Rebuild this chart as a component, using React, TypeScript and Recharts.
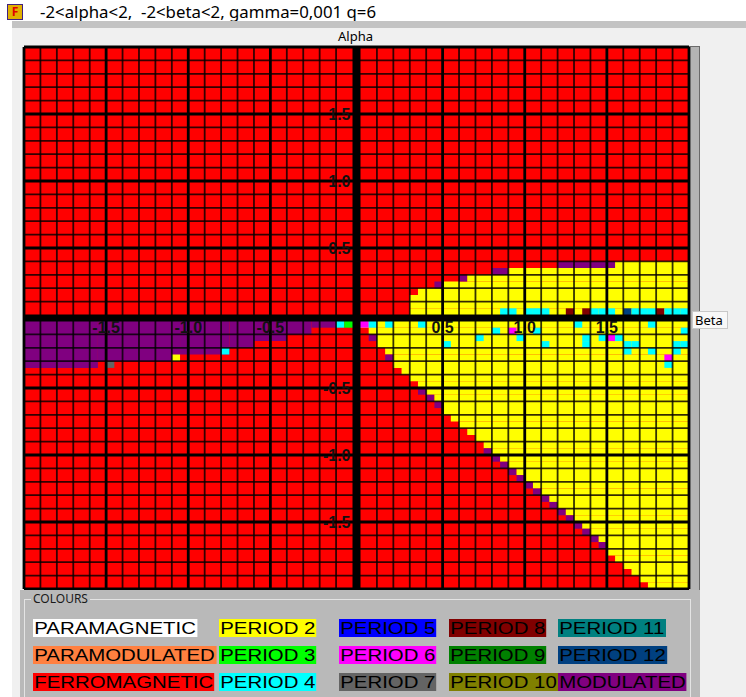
import { ComposedChart, XAxis, YAxis, ReferenceArea, ReferenceLine, ReferenceDot } from 'recharts'

// phases, in legend order (column by column)
const phaseNames = ['PARAMAGNETIC', 'PARAMODULATED', 'FERROMAGNETIC', 'PERIOD 2', 'PERIOD 3', 'PERIOD 4', 'PERIOD 5', 'PERIOD 6', 'PERIOD 7', 'PERIOD 8', 'PERIOD 9', 'PERIOD 10', 'PERIOD 11', 'PERIOD 12', 'MODULATED']
const phaseColors = ['#ffffff', '#ff8040', '#ff0000', '#ffff00', '#00ff00', '#00ffff', '#0000ff', '#ff00ff', '#646464', '#800000', '#008000', '#808000', '#008080', '#004080', '#800080']

const CELL = 0.05

// alpha > 0, beta > 0: rows counted up from the beta axis
const upperRowAlpha = [0, 0.05, 0.1, 0.15, 0.2, 0.25, 0.3, 0.35]
const upperRedEnd = [0.3, 0.3, 0.3, 0.35, 0.45, 0.6, 0.8, 1.2]
const upperModEnd = [0.3, 0.3, 0.3, 0.35, 0.5, 0.65, 0.9, 1.55]

// alpha < 0, beta > 0: row k spans alpha in [-(k+1)*0.05, -k*0.05]
const lowerRedEnd = [0, 0.05, 0.05, 0.1, 0.15, 0.15, 0.2, 0.25, 0.3, 0.35, 0.35, 0.4, 0.45, 0.5, 0.55, 0.6, 0.65, 0.7, 0.75, 0.75, 0.8, 0.85, 0.9, 0.95, 1.0, 1.05, 1.1, 1.15, 1.2, 1.25, 1.3, 1.35, 1.4, 1.45, 1.5, 1.55, 1.6, 1.65, 1.7, 1.75]
const lowerModEdge = [0, 0, 1, 0, 0, 1, 0, 0, 0, 0, 1, 1, 1, 0, 0, 0, 0, 0, 0, 1, 1, 1, 1, 1, 1, 1, 1, 1, 1, 1, 1, 1, 1, 1, 0, 0, 0, 0, 0, 0]

// alpha < 0, beta < 0: modulated band under the beta axis
const modStart = [-2, -1.55, -1.05, -0.75, -0.6, -0.4, -0.25]
const modEnd = [-1.55, -1.05, -0.75, -0.6, -0.4, -0.25, -0.1]
const modDepth = [7, 6, 5, 4, 3, 2, 1]

// isolated cells: [phase, beta, alpha] of the lower-left corner
const oddCells: [string, number, number][] = [
  ['PERIOD 4', 0.85, 0], ['PERIOD 4', 0.9, 0], ['PERIOD 4', 1.0, 0], ['PERIOD 4', 1.05, 0], ['PERIOD 4', 1.1, 0],
  ['PERIOD 8', 1.25, 0], ['PERIOD 8', 1.35, 0], ['PERIOD 4', 1.4, 0], ['PERIOD 4', 1.45, 0], ['PERIOD 4', 1.5, 0],
  ['PERIOD 12', 1.6, 0], ['PERIOD 4', 1.65, 0], ['PERIOD 4', 1.7, 0], ['PERIOD 4', 1.75, 0], ['PERIOD 8', 1.8, 0],
  ['PERIOD 4', 1.85, 0], ['PERIOD 4', 1.9, 0], ['PERIOD 4', 1.95, 0],
  ['PERIOD 6', 0, -0.05], ['PERIOD 4', 0.05, -0.05], ['PERIOD 4', 0.15, -0.05], ['PERIOD 4', 0.35, -0.05], ['PERIOD 4', 1.3, -0.05], ['PERIOD 4', 1.75, -0.05],
  ['PERIOD 4', 0.8, -0.1], ['PERIOD 6', 0.9, -0.1], ['PERIOD 4', 1.05, -0.1], ['PERIOD 4', 1.95, -0.1],
  ['PERIOD 4', 0.7, -0.15], ['PERIOD 4', 0.95, -0.15], ['PERIOD 4', 1.35, -0.15], ['PERIOD 4', 1.45, -0.15], ['PERIOD 6', 1.5, -0.15], ['PERIOD 4', 1.55, -0.15],
  ['PERIOD 4', 0.5, -0.2], ['PERIOD 4', 1.1, -0.2], ['PERIOD 4', 1.35, -0.2], ['PERIOD 4', 1.6, -0.2], ['PERIOD 4', 1.65, -0.2], ['PERIOD 4', 1.9, -0.2], ['PERIOD 4', 1.95, -0.2],
  ['PERIOD 4', 1.6, -0.25], ['PERIOD 4', 1.75, -0.25], ['PERIOD 4', 1.9, -0.25],
  ['PERIOD 6', 1.85, -0.3], ['PERIOD 4', 1.85, -0.35],
  ['PERIOD 4', -0.1, -0.05], ['PERIOD 3', -0.05, -0.05], ['PERIOD 4', -0.8, -0.25], ['PERIOD 2', -1.1, -0.3], ['PERIOD 7', -1.5, -0.35],
]

const betaTicks = [-1.5, -1, -0.5, 0.5, 1, 1.5]
const alphaTicks = [1.5, 1, 0.5, -0.5, -1, -1.5]

// the program leaves a gap for the thick axes between the two halves
const GX = 0.0243
const GY = 0.0224
const gx = (v: number) => (v > 0 ? v + GX : v < 0 ? v - GX : 0)
const gy = (v: number) => (v > 0 ? v + GY : v < 0 ? v - GY : 0)

const colorOf = (name: string) => phaseColors[phaseNames.indexOf(name)]

type Cell = { b1: number; b2: number; a1: number; a2: number; phase: string }

function buildCells(): Cell[] {
  const cells: Cell[] = [{ b1: -2, b2: 2, a1: -2, a2: 2, phase: 'FERROMAGNETIC' }]
  upperRowAlpha.forEach((a, i) => {
    if (upperModEnd[i] > upperRedEnd[i]) cells.push({ b1: upperRedEnd[i], b2: upperModEnd[i], a1: a, a2: a + CELL, phase: 'MODULATED' })
    cells.push({ b1: upperModEnd[i], b2: 2, a1: a, a2: a + CELL, phase: 'PERIOD 2' })
  })
  lowerRedEnd.forEach((r, k) => {
    const a2 = -k * CELL
    const a1 = a2 - CELL
    const m = lowerModEdge[k] ? r + CELL : r
    if (m > r) cells.push({ b1: r, b2: m, a1, a2, phase: 'MODULATED' })
    cells.push({ b1: m, b2: 2, a1, a2, phase: 'PERIOD 2' })
  })
  modStart.forEach((s, i) => cells.push({ b1: s, b2: modEnd[i], a1: -modDepth[i] * CELL, a2: 0, phase: 'MODULATED' }))
  oddCells.forEach(([phase, b, a]) => cells.push({ b1: b, b2: b + CELL, a1: a, a2: a + CELL, phase }))
  return cells
}

const gridSteps = Array.from({ length: 41 }, (_, i) => i - 20)

function PhaseMap() {
  const cells = buildCells()
  const tickFont = { fill: '#111', fontSize: 16, fontWeight: 700, fontFamily: 'Liberation Sans, Arial, sans-serif' }
  return (
    <ComposedChart width={669} height={546} margin={{ top: 2, right: 2, bottom: 2, left: 2 }}>
      <XAxis type="number" dataKey="b" domain={[-2 - GX, 2 + GX]} allowDataOverflow hide />
      <YAxis type="number" dataKey="a" domain={[-2 - GY, 2 + GY]} allowDataOverflow hide />
      {cells.map((c, i) => (
        <ReferenceArea key={'c' + i} x1={gx(c.b1)} x2={gx(c.b2)} y1={gy(c.a1)} y2={gy(c.a2)} fill={colorOf(c.phase)} fillOpacity={1} stroke="none" />
      ))}
      {gridSteps.filter((s) => s !== 0).map((s) => (
        <ReferenceLine key={'v' + s} x={gx(s / 10)} stroke="#000" strokeWidth={s % 5 === 0 ? 2.8 : 1.8} strokeOpacity={s % 5 === 0 ? 1 : 0.8} />
      ))}
      {gridSteps.filter((s) => s !== 0).map((s) => (
        <ReferenceLine key={'h' + s} y={gy(s / 10)} stroke="#000" strokeWidth={s % 5 === 0 ? 2.8 : 1.8} strokeOpacity={s % 5 === 0 ? 1 : 0.8} />
      ))}
      <ReferenceLine x={0} stroke="#000" strokeWidth={8} />
      <ReferenceLine y={0} stroke="#000" strokeWidth={7} />
      {betaTicks.map((v) => (
        <ReferenceDot key={'bt' + v} x={gx(v)} y={0} r={0} fill="none" stroke="none" label={{ value: v.toFixed(1), position: 'bottom', offset: 4, ...tickFont }} />
      ))}
      {alphaTicks.map((v) => (
        <ReferenceDot key={'at' + v} x={0} y={gy(v)} r={0} fill="none" stroke="none" label={{ value: v.toFixed(1), position: 'left', offset: 6, ...tickFont }} />
      ))}
    </ComposedChart>
  )
}

function Legend() {
  const colX = [33, 219, 339, 449, 558]
  const rowY = [619, 646, 673]
  return (
    <>
      {phaseNames.map((name, i) => (
        <div
          key={name}
          style={{
            position: 'absolute', left: colX[Math.floor(i / 3)], top: rowY[i % 3], height: 18, lineHeight: '19px',
            background: phaseColors[i], color: '#000', fontSize: 17, fontFamily: 'Liberation Sans, Arial, sans-serif',
            padding: '0 1px', whiteSpace: 'nowrap', transform: 'scaleX(1.2)', transformOrigin: 'left',
          }}
        >
          {name}
        </div>
      ))}
    </>
  )
}

export default function App() {
  const ui = 'Noto Sans, DejaVu Sans, sans-serif'
  return (
    <div style={{ position: 'absolute', left: 0, top: 0, width: 746, height: 697, background: '#fff', overflow: 'hidden', fontFamily: ui }}>
      <div style={{ position: 'absolute', left: 7, top: 4, width: 14, height: 14, background: '#e0b000', border: '1px solid #402080', color: '#e00000', fontSize: 12, fontWeight: 700, lineHeight: '14px', textAlign: 'center' }}>F</div>
      <div style={{ position: 'absolute', left: 40, top: 1, fontSize: 16, lineHeight: '22px', color: '#000', whiteSpace: 'pre', transform: 'scaleX(1.05)', transformOrigin: 'left' }}>{'-2<alpha<2,  -2<beta<2, gamma=0,001 q=6'}</div>
      <div style={{ position: 'absolute', left: 12, top: 21, width: 734, height: 7, background: '#c3c3c3' }} />
      <div style={{ position: 'absolute', left: 12, top: 28, width: 734, height: 669, background: '#f0f0f0' }} />
      <div style={{ position: 'absolute', left: 338, top: 28, fontSize: 13, lineHeight: '16px', color: '#000' }}>Alpha</div>
      <div style={{ position: 'absolute', left: 689, top: 46, width: 10, height: 544, background: '#b4b4b4', borderRight: '1px solid #6a6a6a', borderTop: '1px solid #6a6a6a' }} />
      <div style={{ position: 'absolute', left: 22, top: 45 }}>
        <PhaseMap />
      </div>
      <div style={{ position: 'absolute', left: 692, top: 311, width: 32, height: 16, background: '#f8f8f8', border: '1px solid #c8c8c8', fontSize: 13, lineHeight: '16px', paddingLeft: 2, color: '#000' }}>Beta</div>
      <div style={{ position: 'absolute', left: 20, top: 590, width: 680, height: 107, background: '#b9b9b9' }} />
      <div style={{ position: 'absolute', left: 24, top: 599, width: 665, height: 110, border: '1px solid #e4e4e4', borderRight: '1px solid #e4e4e4' }} />
      <div style={{ position: 'absolute', left: 31, top: 591, padding: '0 2px', background: '#b9b9b9', fontSize: 12, lineHeight: '16px', color: '#1a1a1a' }}>COLOURS</div>
      <Legend />
    </div>
  )
}
